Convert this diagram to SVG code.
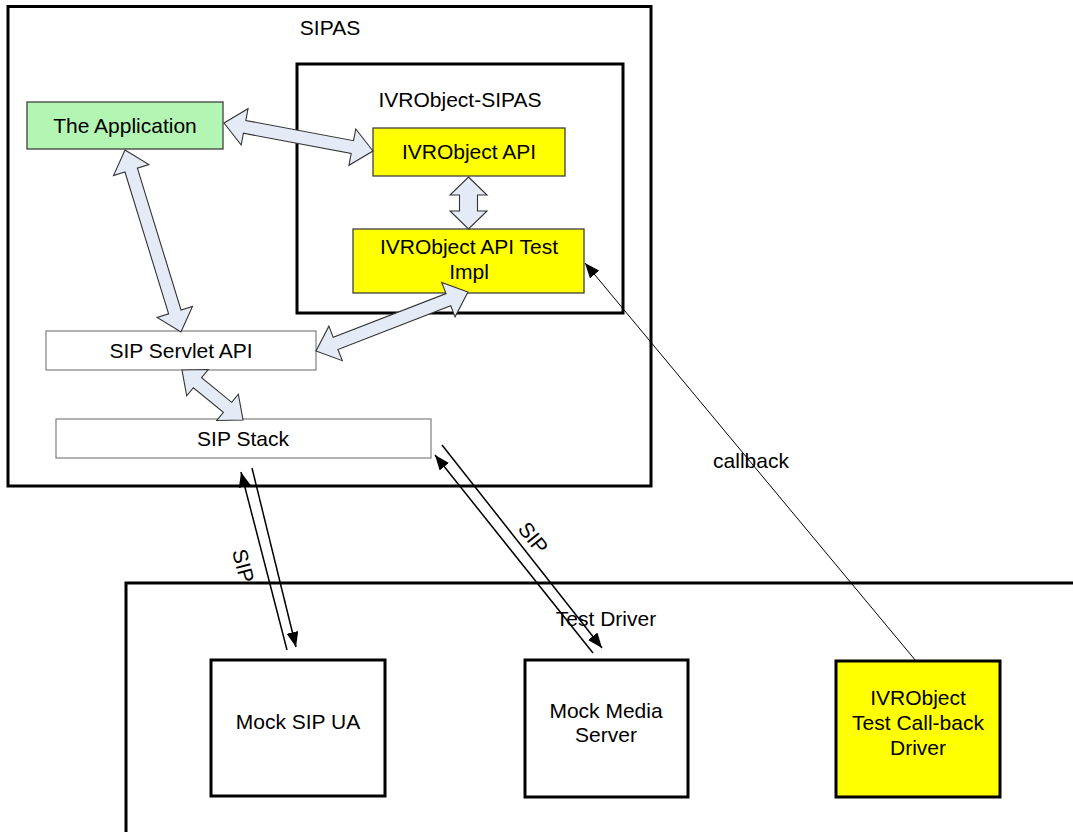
<svg xmlns="http://www.w3.org/2000/svg" width="1073" height="832" viewBox="0 0 1073 832">
  <defs>
    <style>
      text { font-family: "Liberation Sans", Arial, sans-serif; font-size: 21px; fill: #000; text-anchor: middle; }
      .frame { fill: none; stroke: #000; stroke-width: 3; }
      .box { fill: #fff; stroke: #000; stroke-width: 3; }
      .app { fill: #b3f5b3; stroke: #404040; stroke-width: 1.3; }
      .api { fill: #ffff00; stroke: #404040; stroke-width: 1.3; }
      .plain { fill: #fff; stroke: #7f7f7f; stroke-width: 1.2; }
      .driver { fill: #ffff00; stroke: #000; stroke-width: 3; }
      .block { fill: #e4eaf6; stroke: #333; stroke-width: 1.1; stroke-linejoin: miter; }
      .sip { fill: none; stroke: #000; stroke-width: 1.5; marker-end: url(#head); }
      .cb { fill: none; stroke: #000; stroke-width: 1; marker-end: url(#head); }
    </style>
    <marker id="head" markerUnits="userSpaceOnUse" markerWidth="16" markerHeight="13" refX="15" refY="6" orient="auto">
      <path d="M0,0 L15,6 L0,12 Z" fill="#000"/>
    </marker>
  </defs>

  <!-- containers -->
  <g id="sipas">
    <rect class="frame" x="8" y="6.5" width="643" height="479.5"/>
    <text x="330" y="35">SIPAS</text>
  </g>
  <g id="ivrobject-sipas">
    <rect class="frame" x="297" y="64" width="326" height="249"/>
    <text x="460" y="107">IVRObject-SIPAS</text>
  </g>
  <g id="test-driver">
    <path class="frame" d="M126,832 V583 H1073"/>
    <text x="606" y="626">Test Driver</text>
  </g>

  <!-- nodes -->
  <g id="the-application">
    <rect class="app" x="27" y="102" width="196" height="47"/>
    <text x="125" y="133">The Application</text>
  </g>
  <g id="ivrobject-api">
    <rect class="api" x="373" y="128" width="192" height="48"/>
    <text x="469" y="159">IVRObject API</text>
  </g>
  <g id="ivrobject-api-test-impl">
    <rect class="api" x="353" y="229" width="231" height="64"/>
    <text x="469" y="254">IVRObject API Test</text>
    <text x="469" y="279">Impl</text>
  </g>
  <g id="sip-servlet-api">
    <rect class="plain" x="46" y="331" width="270" height="39"/>
    <text x="181" y="358">SIP Servlet API</text>
  </g>
  <g id="sip-stack">
    <rect class="plain" x="56" y="419" width="375" height="39"/>
    <text x="243" y="446">SIP Stack</text>
  </g>
  <g id="mock-sip-ua">
    <rect class="box" x="211" y="660" width="174" height="136"/>
    <text x="298" y="729">Mock SIP UA</text>
  </g>
  <g id="mock-media-server">
    <rect class="box" x="525" y="660" width="163" height="137"/>
    <text x="606" y="718">Mock Media</text>
    <text x="606" y="742">Server</text>
  </g>
  <g id="callback-driver">
    <rect class="driver" x="836" y="661" width="164" height="136"/>
    <text x="918" y="705">IVRObject</text>
    <text x="918" y="730">Test Call-back</text>
    <text x="918" y="755">Driver</text>
  </g>

  <!-- connectors -->
  <g id="connectors">
    <!-- two-headed block arrows -->
    <path class="block" transform="translate(224,123) rotate(10.64)" d="M0,0 L21,-18.5 L21,-6.5 L130.6,-6.5 L130.6,-18.5 L151.6,0 L130.6,18.5 L130.6,6.5 L21,6.5 L21,18.5 Z"/>
    <path class="block" transform="translate(125,150) rotate(72.9)" d="M0,0 L21,-18.5 L21,-6.5 L169.4,-6.5 L169.4,-18.5 L190.4,0 L169.4,18.5 L169.4,6.5 L21,6.5 L21,18.5 Z"/>
    <path class="block" transform="translate(316,351) rotate(-21.21)" d="M0,0 L21,-18.5 L21,-6.5 L142,-6.5 L142,-18.5 L163,0 L142,18.5 L142,6.5 L21,6.5 L21,18.5 Z"/>
    <path class="block" transform="translate(182,370) rotate(39.34)" d="M0,0 L20,-17 L20,-6.5 L58.9,-6.5 L58.9,-17 L78.9,0 L58.9,17 L58.9,6.5 L20,6.5 L20,17 Z"/>
    <path class="block" d="M468.5,177 L487,195 L477.5,195 L477.5,211 L487,211 L468.5,229 L450,211 L459.5,211 L459.5,195 L450,195 Z"/>

    <!-- SIP links -->
    <line class="sip" x1="287" y1="650" x2="241" y2="472"/>
    <line class="sip" x1="252" y1="468" x2="296" y2="647"/>
    <text transform="translate(243,566) rotate(75.5)" dy="7">SIP</text>
    <line class="sip" x1="593" y1="653" x2="435" y2="455"/>
    <line class="sip" x1="442" y1="445" x2="602" y2="648"/>
    <text transform="translate(533,538) rotate(51.4)" dy="7">SIP</text>

    <!-- callback -->
    <line class="cb" x1="916" y1="661" x2="585" y2="263"/>
    <text x="751" y="468">callback</text>
  </g>
</svg>
